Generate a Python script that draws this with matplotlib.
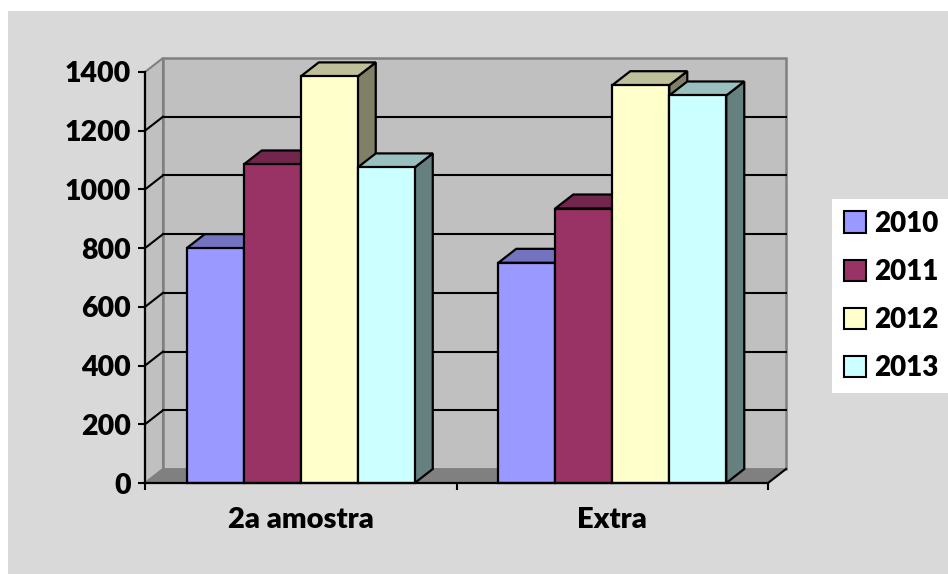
import numpy as np
import matplotlib.pyplot as plt
from matplotlib.patches import Polygon, Patch, Rectangle

# data
categories = ['2a amostra', 'Extra']
years = ['2010', '2011', '2012', '2013']
values_2010 = [800, 750]
values_2011 = [1085, 935]
values_2012 = [1385, 1355]
values_2013 = [1075, 1320]
y_ticks = [0, 200, 400, 600, 800, 1000, 1200, 1400]

series = [values_2010, values_2011, values_2012, values_2013]
front_colors = ['#9999ff', '#993366', '#ffffcc', '#ccffff']

plt.rcParams['font.family'] = ['Lato', 'DejaVu Sans']
plt.rcParams['font.weight'] = 'heavy'

W, H = 948, 574
fig = plt.figure(figsize=(W / 100, H / 100), dpi=100, facecolor='white')
fig.patches.append(Rectangle((8 / W, 0), 1, 1 - 11 / H, transform=fig.transFigure,
                             facecolor='#d9d9d9', edgecolor='none', zorder=-5))

ax = fig.add_axes([145 / W, (H - 483) / H, 623 / W, 411 / H])
ax.set_xlim(0, 2)
ax.set_ylim(0, 1400)
ax.patch.set_visible(False)
for s in ax.spines.values():
    s.set_visible(False)

# 3d depth: 18px right, 14px up, converted to data units
inv = ax.transData.inverted()
p0 = ax.transData.transform((0, 0))
ddx, ddy = inv.transform(p0 + np.array([18, 14])) - inv.transform(p0)
ymax = y_ticks[-1]

def shade(c, f):
    r, g, b = plt.matplotlib.colors.to_rgb(c)
    return (r * f, g * f, b * f)

# walls and floor
ax.add_patch(Polygon([(0, 0), (0, ymax), (ddx, ymax + ddy), (ddx, ddy)], closed=True,
                     facecolor='#c0c0c0', edgecolor='#808080', lw=1.5, zorder=0.5, clip_on=False))
ax.add_patch(Rectangle((ddx, ddy), 2, ymax, facecolor='#c0c0c0', edgecolor='#808080',
                       lw=1.8, zorder=0.5, clip_on=False))
ax.add_patch(Polygon([(0, 0), (2, 0), (2 + ddx, ddy), (ddx, ddy)], closed=True,
                     facecolor='#808080', edgecolor='#808080', lw=1, zorder=0.8, clip_on=False))
ax.plot([2, 2 + ddx], [0, ddy], color='black', lw=1.5, zorder=0.9, clip_on=False)

# gridlines on back wall and left wall
for v in y_ticks[1:-1]:
    ax.plot([ddx, 2 + ddx], [v + ddy, v + ddy], color='black', lw=1.5, zorder=1, clip_on=False)
    ax.plot([0, ddx], [v, v + ddy], color='black', lw=1.5, zorder=1, clip_on=False)

# bars
bw = 0.183
x = np.arange(len(categories)) + 0.5
for i, (vals, col) in enumerate(zip(series, front_colors)):
    xl = x + (i - 2) * bw
    for xx, h in zip(xl, vals):
        ax.add_patch(Polygon([(xx + bw, 0), (xx + bw, h), (xx + bw + ddx, h + ddy), (xx + bw + ddx, ddy)],
                             closed=True, facecolor=shade(col, 0.5), edgecolor='black', lw=1.6,
                             zorder=2 + 3 * i, clip_on=False, joinstyle='miter'))
        ax.add_patch(Polygon([(xx, h), (xx + bw, h), (xx + bw + ddx, h + ddy), (xx + ddx, h + ddy)],
                             closed=True, facecolor=shade(col, 0.75), edgecolor='black', lw=1.6,
                             zorder=3 + 3 * i, clip_on=False, joinstyle='miter'))
    ax.bar(xl, vals, bw, align='edge', color=col, edgecolor='black', lw=1.6,
           zorder=4 + 3 * i, clip_on=False)

# front axes lines
ax.plot([0, 0], [0, ymax], color='black', lw=1.6, zorder=20, clip_on=False)
ax.plot([0, 2], [0, 0], color='black', lw=1.6, zorder=20, clip_on=False)

ax.set_yticks(y_ticks)
ax.tick_params(axis='y', direction='out', length=5, width=1.5, pad=5, labelsize=20.5)
ax.set_xticks([0, 1, 2])
ax.set_xticklabels([])
ax.set_xticks(x, minor=True)
ax.set_xticklabels(categories, minor=True)
ax.tick_params(axis='x', which='major', direction='out', length=5, width=1.5)
ax.tick_params(axis='x', which='minor', length=0, pad=17, labelsize=21)

handles = [Patch(facecolor=c, edgecolor='black', lw=1.5) for c in front_colors]
leg = fig.legend(handles, years, loc='upper left', bbox_to_anchor=(832 / W, 1 - 199 / H),
                 bbox_transform=fig.transFigure, borderaxespad=0, fontsize=20,
                 frameon=True, fancybox=False, framealpha=1, facecolor='white',
                 edgecolor='none', handlelength=0.8, handleheight=0.8,
                 handletextpad=0.3, labelspacing=0.8, borderpad=0.42)

fig.savefig('out.png', dpi=100)
